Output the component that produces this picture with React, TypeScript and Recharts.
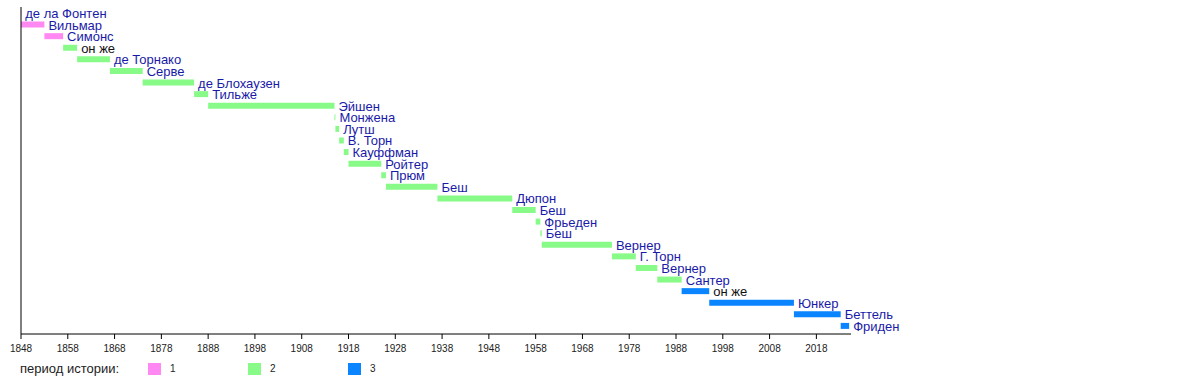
import React from 'react';
import { BarChart, Bar, XAxis, YAxis, Cell, LabelList, Legend } from 'recharts';

// Premiers, one row each, in order from top to bottom
const names = [
  'де ла Фонтен', 'Вильмар', 'Симонс', 'он же', 'де Торнако', 'Серве', 'де Блохаузен',
  'Тильже', 'Эйшен', 'Монжена', 'Лутш', 'В. Торн', 'Кауффман', 'Ройтер', 'Прюм', 'Беш',
  'Дюпон', 'Беш', 'Фрьеден', 'Беш', 'Вернер', 'Г. Торн', 'Вернер', 'Сантер', 'он же',
  'Юнкер', 'Беттель', 'Фриден',
];
const starts = [
  1848, 1848, 1853, 1857, 1860, 1867, 1874, 1885, 1888, 1915, 1915.2, 1916, 1917, 1918,
  1925, 1926, 1937, 1953, 1958, 1959, 1959.3, 1974.3, 1979.4, 1984, 1989.2, 1995.1,
  2013.2, 2023.2,
];
const ends = [
  1848.05, 1853, 1857, 1860, 1867, 1874, 1885, 1888, 1915, 1915.2, 1916, 1917, 1918, 1925,
  1926, 1937, 1953, 1958, 1959, 1959.3, 1974.3, 1979.4, 1984, 1989.2, 1995.1, 2013.2,
  2023.2, 2025,
];
// period of history (1, 2, 3) per row
const periods = [1, 1, 1, 2, 2, 2, 2, 2, 2, 2, 2, 2, 2, 2, 2, 2, 2, 2, 2, 2, 2, 2, 2, 2, 3, 3, 3, 3];
const yearTicks = [1848, 1858, 1868, 1878, 1888, 1898, 1908, 1918, 1928, 1938, 1948, 1958, 1968, 1978, 1988, 1998, 2008, 2018];
const periodLabels = ['1', '2', '3'];

const periodColors: Record<number, string> = { 1: '#ff88f2', 2: '#88fa88', 3: '#0a84ff' };
const FONT = '"Liberation Sans", Arial, Helvetica, sans-serif';

const data = names.map((name, i) => ({
  id: String(i),
  name,
  range: [starts[i], ends[i]],
  period: periods[i],
}));

function NameLabel(props: any) {
  const { x, y, width, height, value } = props;
  const plain = value === 'он же';
  return (
    <text
      x={Number(x) + Number(width) + 4}
      y={Number(y) + Number(height) / 2 + 5}
      fontSize={13}
      fontFamily={FONT}
      fill={plain ? '#111' : '#1a1aa8'}
    >
      {value}
    </text>
  );
}

function PeriodLegend() {
  return (
    <div style={{ position: 'relative', width: 500, height: 24, fontFamily: FONT, color: '#222' }}>
      <span style={{ position: 'absolute', left: 20, top: 6, fontSize: 13 }}>период истории:</span>
      {periodLabels.map((p, i) => (
        <React.Fragment key={p}>
          <span
            style={{
              position: 'absolute',
              left: 148 + i * 100,
              top: 8,
              width: 13,
              height: 12,
              background: periodColors[i + 1],
            }}
          />
          <span style={{ position: 'absolute', left: 170 + i * 100, top: 8, fontSize: 10 }}>{p}</span>
        </React.Fragment>
      ))}
    </div>
  );
}

export default function App() {
  return (
    <div style={{ position: 'absolute', left: 0, top: 0, background: '#fff' }}>
      <BarChart
        width={1200}
        height={384}
        data={data}
        layout="vertical"
        margin={{ top: 7, right: 349, left: 20, bottom: 20 }}
      >
        <XAxis
          type="number"
          domain={[1848, 2025.4]}
          ticks={yearTicks}
          allowDataOverflow
          height={30}
          tickSize={5}
          tickMargin={6}
          axisLine={{ stroke: '#000' }}
          tickLine={{ stroke: '#000' }}
          tick={{ fontSize: 10, fill: '#222', fontFamily: FONT }}
        />
        <YAxis
          type="category"
          dataKey="id"
          width={1}
          tick={false}
          tickLine={false}
          axisLine={{ stroke: '#000' }}
          padding={{ top: 0, bottom: 2.5 }}
        />
        <Legend
          layout="horizontal"
          verticalAlign="middle"
          align="center"
          wrapperStyle={{ left: 0, top: 355, width: 500 }}
          content={<PeriodLegend />}
        />
        <Bar dataKey="range" barSize={6} isAnimationActive={false}>
          {data.map((d) => (
            <Cell key={d.id} fill={periodColors[d.period]} />
          ))}
          <LabelList dataKey="name" content={<NameLabel />} />
        </Bar>
      </BarChart>
    </div>
  );
}
